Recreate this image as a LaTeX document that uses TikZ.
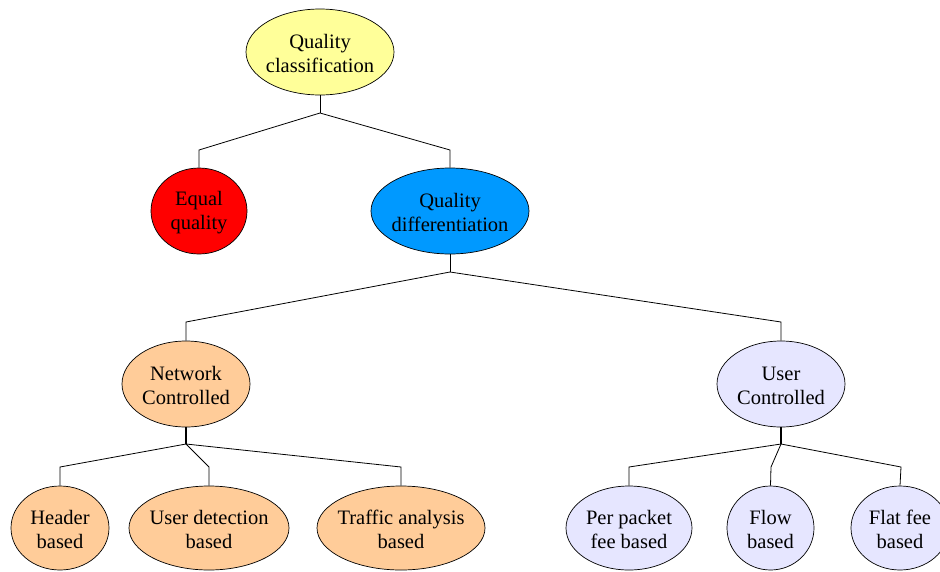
\documentclass[tikz,border=0pt]{standalone}
\usepackage{fontspec}
\setmainfont{Liberation Serif}
\usetikzlibrary{shapes.geometric}
\definecolor{cyellow}{HTML}{FFFF99}
\definecolor{cred}{HTML}{FF0000}
\definecolor{cblue}{HTML}{0099FF}
\definecolor{corange}{HTML}{FFCC99}
\definecolor{clav}{HTML}{E6E6FF}
\tikzset{
  oval/.style={ellipse, draw=black, line width=0.7pt, inner sep=0pt},
  lbl/.style={align=center, inner sep=0pt, yshift=-1.5pt,
    font=\fontsize{20.5}{24}\selectfont},
  conn/.style={draw=black, line width=0.8pt},
  thickconn/.style={draw=black, line width=1.6pt}
}
\begin{document}
\begin{tikzpicture}[x=1pt,y=-1pt]
\useasboundingbox (0,0) rectangle (940,571);
\begin{scope}
\clip (0,0) rectangle (940,571);
% nodes
\node[oval, fill=cyellow, minimum width=148pt, minimum height=86pt, label={[lbl]center:Quality\\classification}] (top) at (320,52) {};
\node[oval, fill=cred, minimum width=96pt, minimum height=86pt, label={[lbl]center:Equal\\quality}] (eq) at (199,211) {};
\node[oval, fill=cblue, minimum width=158pt, minimum height=86pt, label={[lbl]center:Quality\\differentiation}] (qd) at (450,211) {};
\node[oval, fill=corange, minimum width=128pt, minimum height=86pt, label={[lbl]center:Network\\Controlled}] (nc) at (186,384) {};
\node[oval, fill=clav, minimum width=128pt, minimum height=86pt, label={[lbl]center:User\\Controlled}] (uc) at (781,384) {};
\node[oval, fill=corange, minimum width=98pt, minimum height=84pt, label={[lbl]center:Header\\based}] (hb) at (60,528) {};
\node[oval, fill=corange, minimum width=160pt, minimum height=84pt, label={[lbl]center:User detection\\based}] (ud) at (209,528) {};
\node[oval, fill=corange, minimum width=168pt, minimum height=84pt, label={[lbl]center:Traffic analysis\\based}] (ta) at (401,528) {};
\node[oval, fill=clav, minimum width=126pt, minimum height=84pt, label={[lbl]center:Per packet\\fee based}] (pp) at (629,528) {};
\node[oval, fill=clav, minimum width=87pt, minimum height=84pt, label={[lbl]center:Flow\\based}] (fb) at (770.5,528) {};
\node[oval, fill=clav, minimum width=98pt, minimum height=84pt, label={[lbl]center:Flat fee\\based}] (ff) at (900,528) {};
% junctions
\coordinate (j1) at (320,113);
\coordinate (k1) at (199,150);
\coordinate (k2) at (450,150);
\coordinate (j2) at (450,272);
\coordinate (k3) at (186,322);
\coordinate (k4) at (781,322);
\coordinate (j3) at (186,444);
\coordinate (k5) at (60,467);
\coordinate (k6) at (209,467);
\coordinate (k7) at (401,467);
\coordinate (j4) at (781,444);
\coordinate (k8) at (629,467);
\coordinate (k9) at (771,467);
\coordinate (k10) at (901,467);
% connectors
\draw[conn] (top.south) -- (j1);
\draw[conn] (j1) -- (k1) -- (eq.north);
\draw[conn] (j1) -- (k2) -- (qd.north);
\draw[conn] (qd.south) -- (j2);
\draw[conn] (j2) -- (k3) -- (nc.north);
\draw[conn] (j2) -- (k4) -- (uc.north);
\draw[thickconn] (nc.south) -- (j3);
\draw[conn] (j3) -- (k5) -- (hb.north);
\draw[conn] (j3) -- (k6) -- (ud.north);
\draw[conn] (j3) -- (k7) -- (ta.north);
\draw[thickconn] (uc.south) -- (j4);
\draw[conn] (j4) -- (k8) -- (pp.north);
\draw[conn] (j4) -- (k9) -- (fb.north);
\draw[conn] (j4) -- (k10) -- (ff.north);
\end{scope}
\end{tikzpicture}
\end{document}
